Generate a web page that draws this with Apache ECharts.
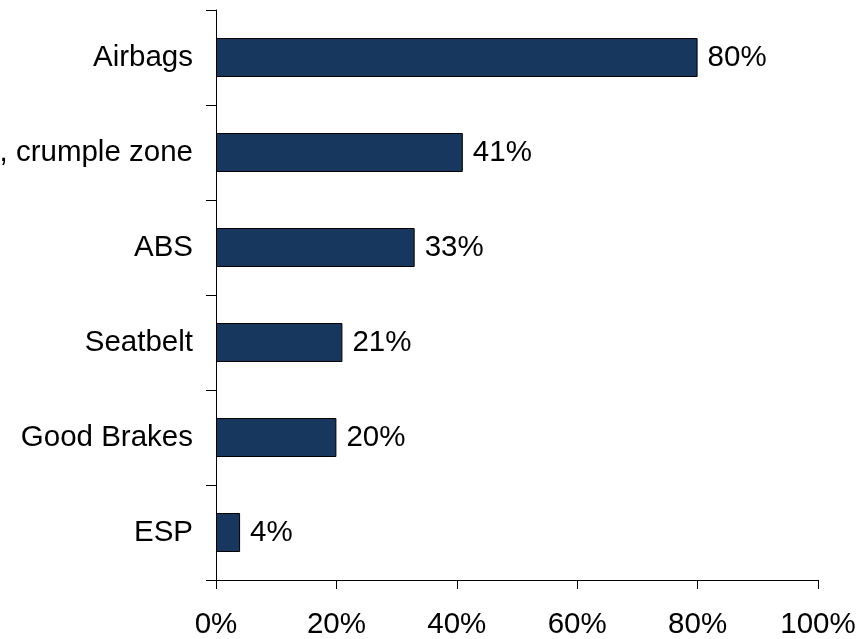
<!DOCTYPE html>
<html>
<head>
<meta charset="utf-8">
<script src="https://cdn.jsdelivr.net/npm/echarts@6/dist/echarts.min.js"></script>
<style>
html,body{margin:0;padding:0;background:#fff;}
#chart{width:862px;height:639px;}
</style>
</head>
<body>
<div id="chart"></div>
<script>
const categories = ['Airbags', 'Body structure, crumple zone', 'ABS', 'Seatbelt', 'Good Brakes', 'ESP'];
const values = [80, 41, 33, 21, 20, 4];
const xTicks = [0, 20, 40, 60, 80, 100];

const chart = echarts.init(document.getElementById('chart'));
const font = 'Liberation Sans, Arial, sans-serif';
chart.setOption({
  animation: false,
  backgroundColor: '#ffffff',
  grid: { left: 216, right: 44, top: 10, bottom: 59, containLabel: false, outerBoundsMode: 'none' },
  xAxis: {
    type: 'value',
    min: xTicks[0],
    max: xTicks[xTicks.length - 1],
    interval: 20,
    axisLine: { show: true, lineStyle: { color: '#000', width: 1 } },
    axisTick: { show: true, length: 9, lineStyle: { color: '#000', width: 1 } },
    splitLine: { show: false },
    axisLabel: { formatter: '{value}%', fontSize: 29.5, color: '#000', fontFamily: font, margin: 30 }
  },
  yAxis: {
    type: 'category',
    data: categories,
    inverse: true,
    axisLine: { show: true, lineStyle: { color: '#000', width: 1 } },
    axisTick: { show: true, length: 10, alignWithLabel: false, lineStyle: { color: '#000', width: 1 } },
    axisLabel: { fontSize: 29.5, color: '#000', fontFamily: font, margin: 23 }
  },
  series: [{
    type: 'bar',
    data: values,
    barWidth: 39,
    itemStyle: { color: '#17375E', borderColor: '#000', borderWidth: 1 },
    label: {
      show: true,
      position: 'right',
      distance: 10,
      formatter: '{c}%',
      fontSize: 29.5,
      color: '#000',
      fontFamily: font
    }
  }]
});
</script>
</body>
</html>
